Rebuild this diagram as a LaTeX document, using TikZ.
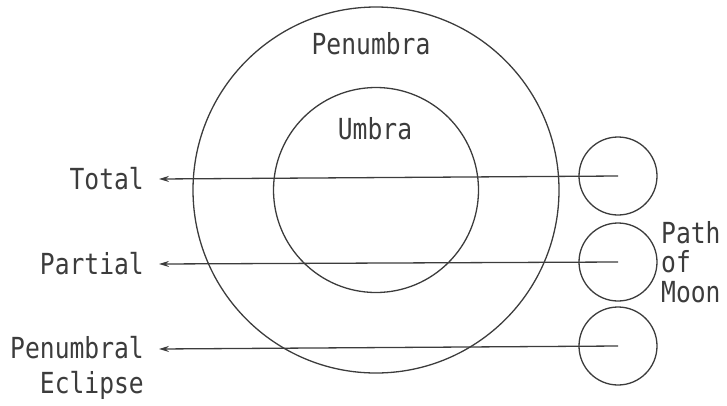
\documentclass[tikz,border=0pt]{standalone}
\usepackage{fontspec}
\newfontfamily\lblfont[FakeStretch=0.85]{DejaVu Sans Mono}
\usetikzlibrary{arrows.meta}
\definecolor{ink}{RGB}{60,60,60}
\begin{document}
\begin{tikzpicture}[x=1pt,y=-1pt,
  ring/.style={draw=ink,line width=1.3pt,circle,inner sep=0pt},
  lbl/.style={text=ink,font=\lblfont\fontsize{29}{29.5}\selectfont,inner sep=0pt},
  ray/.style={draw=ink,line width=1.3pt,-{Stealth[length=10pt,width=6pt]}}]
\useasboundingbox (0,0) rectangle (727,405);
% shadow circles
\node[ring,minimum size=366pt] (pen) at (376,190) {};
\node[ring,minimum size=205pt] (umb) at (376,190) {};
\node[lbl,anchor=base] (penlbl) at (371,54) {Penumbra};
\node[lbl,anchor=base] (umblbl) at (375,139) {Umbra};
% moons
\node[ring,minimum size=78pt] (m1) at (618,176) {};
\node[ring,minimum size=78pt] (m2) at (618,262) {};
\node[ring,minimum size=78pt] (m3) at (618,346) {};
% labels
\node[lbl,anchor=base east] (total) at (144,189) {Total};
\node[lbl,anchor=base east] (partial) at (144,274) {Partial};
\node[lbl,anchor=base east,align=right] (penecl) at (144,393) {Penumbral\\[5.5pt]Eclipse};
\node[lbl,anchor=base west,align=left] (path) at (661,302) {Path\\of\\Moon};
% arrow tips
\coordinate (t1) at (159,179);
\coordinate (t2) at (159,264);
\coordinate (t3) at (159,349);
\draw[ray] (m1.center) -- (t1);
\draw[ray] (m2.center) -- (t2);
\draw[ray] (m3.center) -- (t3);
\end{tikzpicture}
\end{document}
